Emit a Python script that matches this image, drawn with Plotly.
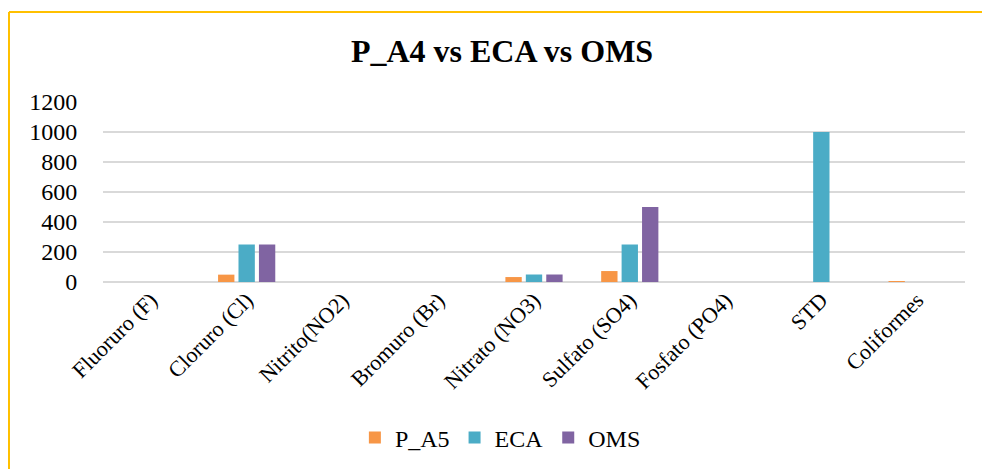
import plotly.graph_objects as go

categories = ["Fluoruro (F)", "Cloruro (Cl)", "Nitrito(NO2)", "Bromuro (Br)", "Nitrato (NO3)",
              "Sulfato (SO4)", "Fosfato (PO4)", "STD", "Coliformes"]
p_a5 = [0, 49, 0, 0, 33, 73, 0, None, 2]
eca = [0, 250, 0, None, 50, 250, None, 1000, 0]
oms = [0, 250, 0, None, 50, 500, None, None, 0]
y_ticks = [0, 200, 400, 600, 800, 1000, 1200]

font_family = "Liberation Serif"

W, H = 982, 469
L, T, R, B = 103, 102, 17, 187
PW, PH = W - L - R, H - T - B

fig = go.Figure()
fig.add_trace(go.Bar(name="P_A5", x=categories, y=p_a5, marker=dict(color="#F79646", line=dict(width=0))))
fig.add_trace(go.Bar(name="ECA", x=categories, y=eca, marker=dict(color="#4BACC6", line=dict(width=0))))
fig.add_trace(go.Bar(name="OMS", x=categories, y=oms, marker=dict(color="#8064A2", line=dict(width=0))))

fig.update_layout(
    width=W, height=H,
    margin=dict(l=L, r=R, t=T, b=B, autoexpand=False),
    paper_bgcolor="white", plot_bgcolor="white",
    font=dict(family=font_family, color="black"),
    title=dict(text="<b>P_A4 vs ECA vs OMS</b>", x=502 / W, xanchor="center", y=1 - 51 / H, yanchor="middle",
               font=dict(size=32, family=font_family, color="black")),
    barmode="group", bargap=0.36, bargroupgap=0.2,
    legend=dict(orientation="h", x=0.461, xanchor="center", y=(282 - 438) / PH, yanchor="middle",
                font=dict(size=24, family=font_family, color="black"), itemwidth=30, traceorder="normal"),
    xaxis=dict(tickangle=-45, tickfont=dict(size=22, family=font_family, color="black"), showgrid=False,
               showline=False, ticks=""),
    yaxis=dict(range=[0, 1200], tickvals=y_ticks, tickfont=dict(size=24, family=font_family, color="black"),
               showgrid=True, gridcolor="#D9D9D9", gridwidth=1.5, zeroline=True, zerolinecolor="#D9D9D9",
               zerolinewidth=1.5, ticks="outside", ticklen=20, tickcolor="rgba(0,0,0,0)"),
    shapes=[
        dict(type="line", xref="paper", yref="paper", x0=(9 - L) / PW, x1=(1000 - L) / PW,
             y0=(282 - 12) / PH, y1=(282 - 12) / PH, line=dict(color="#FFC000", width=2), layer="below"),
        dict(type="line", xref="paper", yref="paper", x0=(9 - L) / PW, x1=(9 - L) / PW,
             y0=(282 - 12) / PH, y1=(282 - 490) / PH, line=dict(color="#FFC000", width=2), layer="below"),
    ],
)

fig.write_html("out.html", config={"displayModeBar": False},
               post_script="document.body.style.margin='0';document.body.style.overflow='hidden';"
                           "document.documentElement.style.overflow='hidden';")
